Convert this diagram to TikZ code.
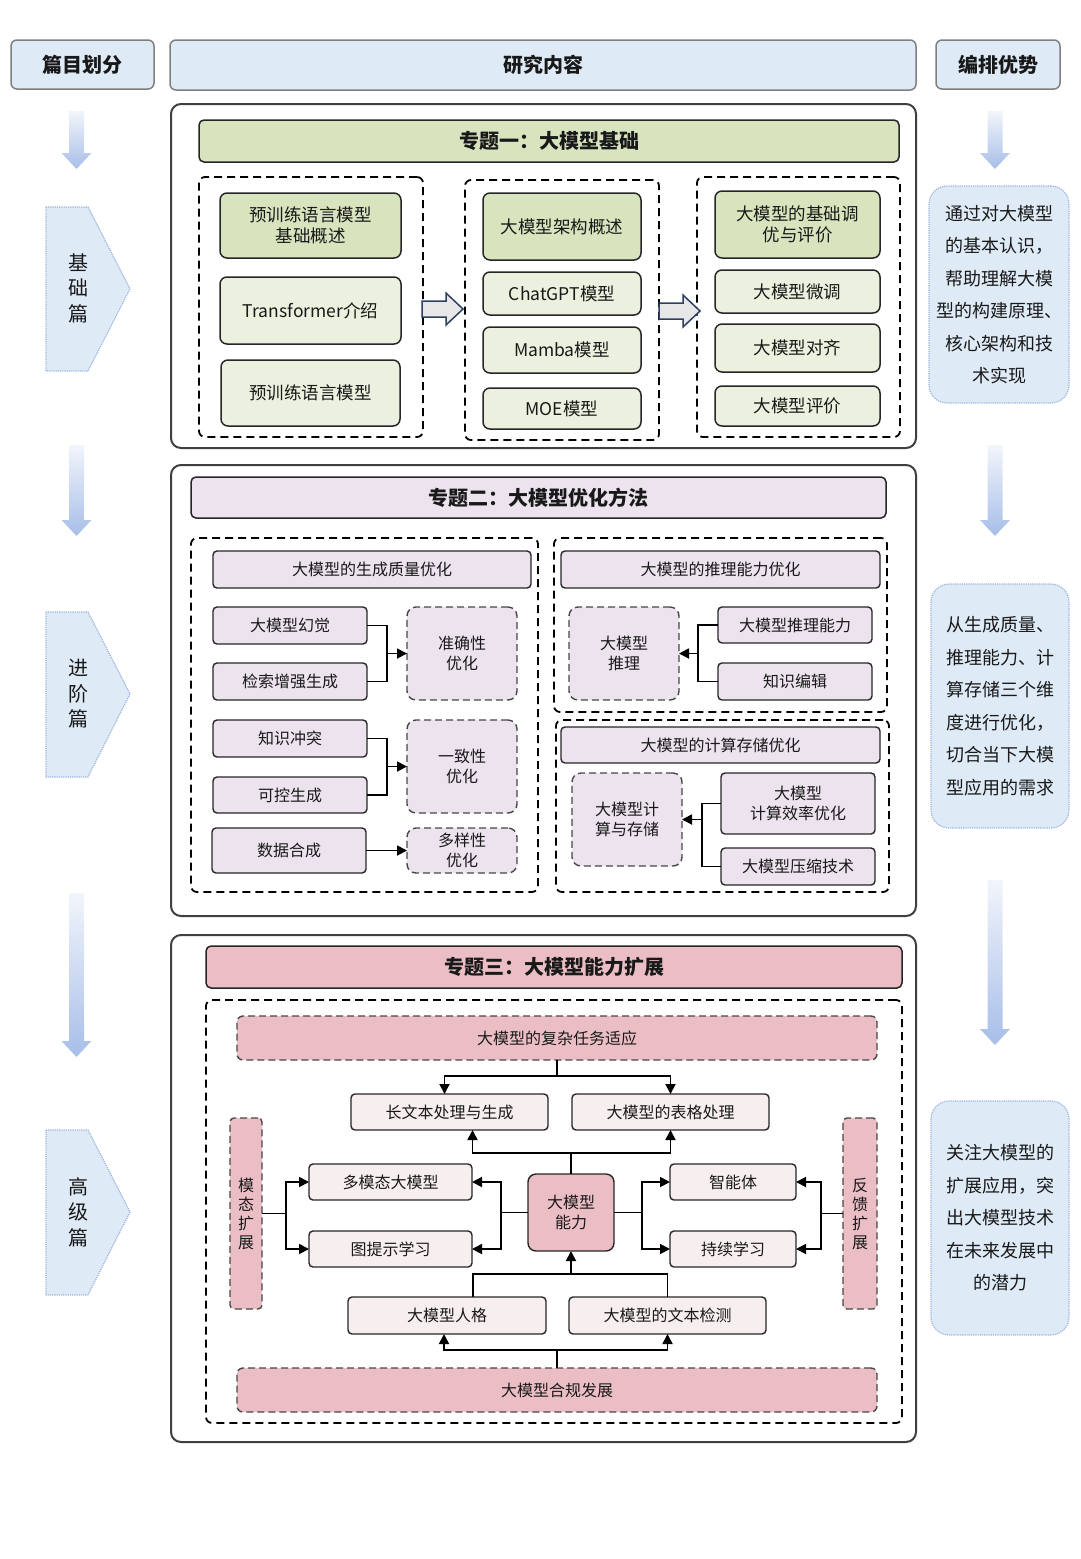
\documentclass[tikz,border=0pt]{standalone}
\usepackage{fontspec}
\setmainfont{Noto Sans CJK SC}
\usetikzlibrary{arrows.meta,calc}
\definecolor{hdrblue}{HTML}{DEEBF7}
\definecolor{hdrdraw}{HTML}{7F7F7F}
\definecolor{outerdraw}{HTML}{3F3F3F}
\definecolor{boxdraw}{HTML}{262626}
\definecolor{gdark}{HTML}{D7E4BD}
\definecolor{glight}{HTML}{EBF1DE}
\definecolor{lav}{HTML}{ECE3EE}
\definecolor{pinkc}{HTML}{EBBEC5}
\definecolor{lpink}{HTML}{F7EFEF}
\definecolor{rfill}{HTML}{DEEAF6}
\definecolor{rdraw}{HTML}{9DB4E0}
\definecolor{shtop}{HTML}{F2F5FB}
\definecolor{shbot}{HTML}{A7BEE8}
\definecolor{harrdraw}{HTML}{2F3F60}
\definecolor{harrfill}{HTML}{E7E7E7}
\newcommand\fs[2]{\fontsize{#1}{#2}\selectfont}
\newcommand\mybox[7]{\node[#6, minimum width={(#4-#2)*1pt}, minimum height={(#5-#3)*1pt}] (#1) at ({(#2+#4)/2},{(#3+#5)/2}) {#7};}
\newcommand\downarr[4]{\shade[top color=shtop, bottom color=shbot] ({#1-7.5},#2) -- ({#1+7.5},#2) -- ({#1+7.5},#3) -- ({#1+15},#3) -- (#1,#4) -- ({#1-15},#3) -- ({#1-7.5},#3) -- cycle;}
\begin{document}
\begin{tikzpicture}[x=1pt,y=-1pt,
  every node/.style={inner sep=0pt, outer sep=0pt, text=black!90, align=center},
  hdr/.style={draw=hdrdraw, fill=hdrblue, line width=1.5pt, rounded corners=6pt, font=\bfseries\fs{20}{24}},
  outer/.style={draw=outerdraw, line width=2pt, rounded corners=10pt},
  dbox/.style={draw=black, line width=1.8pt, dash pattern=on 8pt off 5pt, rounded corners=6pt},
  ttl/.style={draw=boxdraw, line width=1.5pt, rounded corners=5pt, font=\bfseries\fs{20}{24}},
  g1/.style={draw=boxdraw, line width=1.5pt, rounded corners=7pt, fill=gdark, font=\fs{17.5}{21}},
  g2/.style={draw=boxdraw, line width=1.5pt, rounded corners=7pt, fill=glight, font=\fs{17.5}{21}},
  p2/.style={draw=boxdraw, line width=1.4pt, rounded corners=4pt, fill=lav, font=\fs{16}{20}},
  p2d/.style={draw=boxdraw!85, line width=1.4pt, dash pattern=on 7pt off 4pt, rounded corners=9pt, fill=lav, font=\fs{16}{20}},
  p3/.style={draw=boxdraw, line width=1.4pt, rounded corners=4pt, fill=lpink, font=\fs{16}{20}},
  p3d/.style={draw=boxdraw!85, line width=1.4pt, dash pattern=on 7pt off 4pt, rounded corners=6pt, fill=pinkc, font=\fs{16}{20}},
  p3v/.style={draw=boxdraw!85, line width=1.4pt, dash pattern=on 7pt off 4pt, rounded corners=4pt, fill=pinkc, font=\fs{16}{19}},
  p3c/.style={draw=boxdraw, line width=1.4pt, rounded corners=8pt, fill=pinkc, font=\fs{16}{20}},
  rbox/.style={draw=rdraw, line width=1.2pt, densely dotted, rounded corners=18pt, fill=rfill, font=\fs{18}{32.5}},
  pent/.style={draw=rdraw, line width=1.2pt, densely dotted, fill=rfill},
  conn/.style={draw=black, line width=1.8pt},
  arr/.style={-{Triangle[length=10pt,width=10pt]}},
  harr/.style={draw=harrdraw, fill=harrfill, line width=1.5pt, line join=miter}
]
\useasboundingbox (0,0) rectangle (1080,1559);

% ---------- header row ----------
\mybox{h1}{11}{40}{154}{89}{hdr}{篇目划分}
\mybox{h2}{170}{40}{916}{90}{hdr}{研究内容}
\mybox{h3}{936}{40}{1060}{89}{hdr}{编排优势}

% ---------- left column ----------
\downarr{76.5}{111}{153}{169}
\draw[pent] (46,207) -- (88,207) -- (130,289) -- (88,371) -- (46,371) -- cycle;
\node[font=\fs{20}{25.5}] (L1) at (78,288) {基\\础\\篇};
\downarr{76.5}{445}{520}{536}
\draw[pent] (46,612) -- (88,612) -- (130,694) -- (88,777) -- (46,777) -- cycle;
\node[font=\fs{20}{25.5}] (L2) at (78,694) {进\\阶\\篇};
\downarr{76.5}{893}{1041}{1057}
\draw[pent] (46,1130) -- (88,1130) -- (130,1212) -- (88,1295) -- (46,1295) -- cycle;
\node[font=\fs{20}{25.5}] (L3) at (78,1212) {高\\级\\篇};

% ---------- right column ----------
\downarr{995}{111}{153}{169}
\mybox{R1}{929}{186}{1069}{403}{rbox}{通过对大模型\\的基本认识，\\帮助理解大模\\型的构建原理、\\核心架构和技\\术实现}
\downarr{995}{445}{520}{536}
\mybox{R2}{931}{584}{1069}{828}{rbox}{从生成质量、\\推理能力、计\\算存储三个维\\度进行优化，\\切合当下大模\\型应用的需求}
\downarr{995}{880}{1029}{1045}
\mybox{R3}{931}{1101}{1069}{1335}{rbox}{关注大模型的\\扩展应用，突\\出大模型技术\\在未来发展中\\的潜力}

% ---------- section 1 ----------
\mybox{s1}{171}{104}{916}{448}{outer}{}
\mybox{t1}{199}{120}{899}{162}{ttl,fill=gdark}{专题一：大模型基础}
\mybox{d11}{199}{177}{423}{437}{dbox}{}
\mybox{a1}{220}{193}{401}{258}{g1}{预训练语言模型\\基础概述}
\mybox{a2}{220}{277}{401}{344}{g2}{Transformer介绍}
\mybox{a3}{221}{360}{400}{426}{g2}{预训练语言模型}
\mybox{d12}{465}{180}{659}{440}{dbox}{}
\mybox{b1}{483}{193}{641}{260}{g1}{大模型架构概述}
\mybox{b2}{483}{272}{641}{315}{g2}{ChatGPT模型}
\mybox{b3}{483}{327}{641}{373}{g2}{Mamba模型}
\mybox{b4}{483}{388}{641}{429}{g2}{MOE模型}
\mybox{d13}{697}{177}{900}{437}{dbox}{}
\mybox{c1}{715}{191}{880}{258}{g1}{大模型的基础调\\优与评价}
\mybox{c2}{715}{270}{880}{313}{g2}{大模型微调}
\mybox{c3}{715}{324}{880}{372}{g2}{大模型对齐}
\mybox{c4}{715}{386}{880}{426}{g2}{大模型评价}
\draw[harr] (422,301) -- (446,301) -- (446,293) -- (463,309) -- (446,325) -- (446,317) -- (422,317) -- cycle;
\draw[harr] (659,303) -- (683,303) -- (683,295) -- (700,311) -- (683,327) -- (683,319) -- (659,319) -- cycle;

% ---------- section 2 ----------
\mybox{s2}{171}{465}{916}{916}{outer}{}
\mybox{t2}{191}{477}{886}{518}{ttl,fill=lav}{专题二：大模型优化方法}
\mybox{d21}{191}{538}{538}{892}{dbox}{}
\mybox{q0}{213}{551}{531}{588}{p2}{大模型的生成质量优化}
\mybox{q1}{213}{607}{367}{644}{p2}{大模型幻觉}
\mybox{q2}{213}{663}{367}{700}{p2}{检索增强生成}
\mybox{q3}{407}{607}{517}{700}{p2d}{准确性\\优化}
\mybox{q4}{213}{720}{367}{757}{p2}{知识冲突}
\mybox{q5}{213}{777}{367}{813}{p2}{可控生成}
\mybox{q6}{407}{720}{517}{813}{p2d}{一致性\\优化}
\mybox{q7}{212}{828}{366}{873}{p2}{数据合成}
\mybox{q8}{407}{828}{517}{873}{p2d}{多样性\\优化}
\mybox{d22}{554}{538}{887}{712}{dbox}{}
\mybox{r0}{561}{551}{880}{588}{p2}{大模型的推理能力优化}
\mybox{r1}{569}{607}{679}{700}{p2d}{大模型\\推理}
\mybox{r2}{718}{607}{872}{643}{p2}{大模型推理能力}
\mybox{r3}{718}{663}{872}{700}{p2}{知识编辑}
\mybox{d23}{556}{720}{889}{892}{dbox}{}
\mybox{u0}{561}{727}{880}{763}{p2}{大模型的计算存储优化}
\mybox{u1}{572}{773}{682}{866}{p2d}{大模型计\\算与存储}
\mybox{u2}{721}{773}{875}{834}{p2}{大模型\\计算效率优化}
\mybox{u3}{721}{848}{875}{885}{p2}{大模型压缩技术}

\coordinate (j1) at ($(q1.east)+(20,0)$);
\draw[conn] (q1.east) -- (j1) |- (q2.east);
\draw[conn,arr] (j1 |- q3.west) -- (q3.west);
\coordinate (j2) at ($(q4.east)+(20,0)$);
\draw[conn] (q4.east) -- (j2) |- (q5.east);
\draw[conn,arr] (j2 |- q6.west) -- (q6.west);
\draw[conn,arr] (q7.east) -- (q8.west);
\coordinate (j3) at ($(r2.west)+(-20,0)$);
\draw[conn] (r2.west) -- (j3) |- (r3.west);
\draw[conn,arr] (j3 |- r1.east) -- (r1.east);
\coordinate (j4) at ($(u2.west)+(-19,0)$);
\draw[conn] (u2.west) -- (j4) |- (u3.west);
\draw[conn,arr] (j4 |- u1.east) -- (u1.east);

% ---------- section 3 ----------
\mybox{s3}{171}{935}{916}{1442}{outer}{}
\mybox{t3}{206}{946}{902}{988}{ttl,fill=pinkc}{专题三：大模型能力扩展}
\mybox{d31}{206}{1000}{902}{1423}{dbox}{}
\mybox{fz}{237}{1016}{877}{1060}{p3d}{大模型的复杂任务适应}
\mybox{cw}{351}{1094}{548}{1130}{p3}{长文本处理与生成}
\mybox{bg}{572}{1094}{769}{1130}{p3}{大模型的表格处理}
\mybox{nl}{528}{1174}{614}{1251}{p3c}{大模型\\能力}
\mybox{mm}{309}{1164}{472}{1200}{p3}{多模态大模型}
\mybox{tp}{309}{1231}{472}{1267}{p3}{图提示学习}
\mybox{zn}{670}{1164}{796}{1200}{p3}{智能体}
\mybox{cx}{670}{1231}{796}{1267}{p3}{持续学习}
\mybox{mt}{230}{1118}{262}{1309}{p3v}{模\\态\\扩\\展}
\mybox{fk}{843}{1118}{877}{1309}{p3v}{反\\馈\\扩\\展}
\mybox{rg}{348}{1297}{546}{1334}{p3}{大模型人格}
\mybox{jc}{569}{1297}{766}{1334}{p3}{大模型的文本检测}
\mybox{hg}{237}{1368}{877}{1412}{p3d}{大模型合规发展}

\draw[conn] (fz.south) -- ++(0,16) coordinate (k1);
\draw[conn,arr] (k1) -| ($(cw.north)+(-5,0)$);
\draw[conn,arr] (k1) -| (bg.north);
\draw[conn] (nl.north) -- ++(0,-21) coordinate (k2);
\draw[conn,arr] (k2) -| ($(cw.south)+(23,0)$);
\draw[conn,arr] (k2) -| (bg.south);
\draw[conn] (nl.west) -- ++(-27,0) coordinate (k3);
\draw[conn,arr] (k3) |- (mm.east);
\draw[conn,arr] (k3) |- (tp.east);
\draw[conn] (nl.east) -- ++(28,0) coordinate (k4);
\draw[conn,arr] (k4) |- (zn.west);
\draw[conn,arr] (k4) |- (cx.west);
\draw[conn] (mt.east) -- ++(24,0) coordinate (k5);
\draw[conn,arr] (k5) |- (mm.west);
\draw[conn,arr] (k5) |- (tp.west);
\draw[conn] (fk.west) -- ++(-22,0) coordinate (k6);
\draw[conn,arr] (k6) |- (zn.east);
\draw[conn,arr] (k6) |- (cx.east);
\coordinate (k7) at ($(nl.south)+(0,23)$);
\draw[conn] ($(rg.north)+(26,0)$) |- (k7) -| (jc.north);
\draw[conn,arr] (k7) -- (nl.south);
\draw[conn] (hg.north) -- ++(0,-18) coordinate (k8);
\draw[conn,arr] (k8) -| ($(rg.south)+(-3,0)$);
\draw[conn,arr] (k8) -| (jc.south);
\end{tikzpicture}
\end{document}
